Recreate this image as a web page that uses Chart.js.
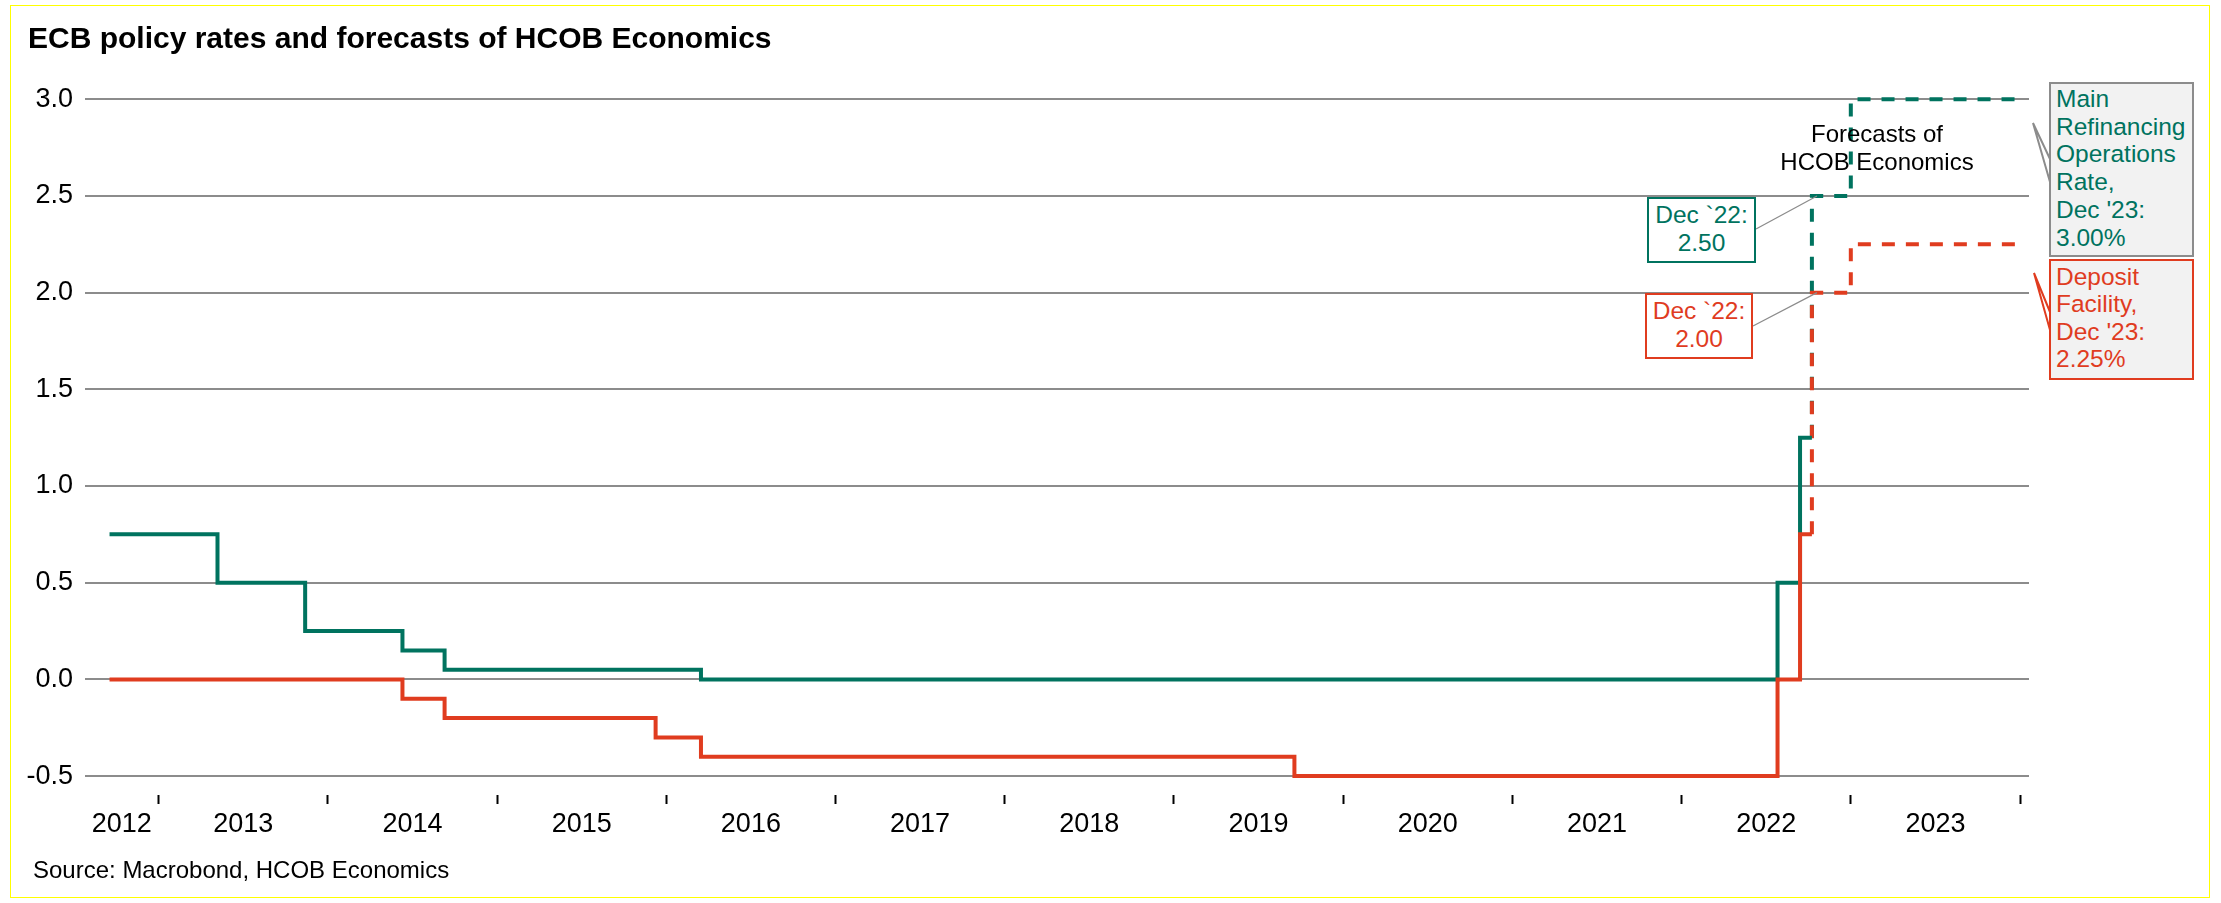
<!DOCTYPE html>
<html>
<head>
<meta charset="utf-8">
<script src="https://cdn.jsdelivr.net/npm/chart.js@4.4.0/dist/chart.umd.min.js"></script>
<style>
  html, body { margin: 0; padding: 0; background: #fff; }
  #wrap { position: relative; width: 2221px; height: 903px; font-family: 'Liberation Sans', Arial, sans-serif; }
  #chart { position: absolute; left: 0; top: 0; }
  .t { position: absolute; white-space: nowrap; }
  #frame { position: absolute; left: 10px; top: 5px; width: 2200px; height: 893px; box-sizing: border-box;
           border: 1px solid #ffff00; pointer-events: none; }
  #title { left: 28px; top: 23px; font-size: 30px; line-height: 30px; font-weight: bold; color: #000; }
  #source { left: 33px; top: 858px; font-size: 24px; line-height: 24px; color: #000; }
  #forecast { left: 1727px; top: 120px; width: 300px; text-align: center; font-size: 24px; line-height: 27.5px; color: #000; }
  .dec { position: absolute; box-sizing: border-box; background: #fff; border: 2px solid; text-align: center;
         font-size: 24.5px; line-height: 28px; padding-top: 2px; }
  .side { position: absolute; box-sizing: border-box; background: #f2f2f2; border: 2px solid;
          font-size: 24.5px; padding-left: 5px; }
</style>
</head>
<body>
<div id="wrap">
  <canvas id="chart" width="2221" height="903"></canvas>
  <div id="title" class="t">ECB policy rates and forecasts of HCOB Economics</div>
  <div id="source" class="t">Source: Macrobond, HCOB Economics</div>
  <div id="forecast" class="t">Forecasts of<br>HCOB Economics</div>
  <div class="dec" style="left:1647px; top:197px; width:109px; height:66px; border-color:#00735f; color:#00735f;">Dec `22:<br>2.50</div>
  <div class="dec" style="left:1645px; top:293px; width:108px; height:66px; border-color:#e03c1f; color:#e03c1f;">Dec `22:<br>2.00</div>
  <div class="side" style="left:2049px; top:82px; width:145px; height:175px; border-color:#8c8c8c; color:#00735f; line-height:27.7px; padding-top:1px;">Main<br>Refinancing<br>Operations<br>Rate,<br>Dec '23:<br>3.00%</div>
  <div class="side" style="left:2049px; top:259px; width:145px; height:121px; border-color:#e03c1f; color:#e03c1f; line-height:27.4px; padding-top:2px;">Deposit<br>Facility,<br>Dec '23:<br>2.25%</div>
  <div id="frame"></div>
</div>
<script>
// Decimal-year dates of each rate change, and the rate that applies from then on.
const mroDates  = [2012.71, 2013.348, 2013.866, 2014.441, 2014.69, 2016.205, 2022.567, 2022.70, 2022.77];
const mroValues = [0.75, 0.50, 0.25, 0.15, 0.05, 0.00, 0.50, 1.25, 1.25];
const dfrDates  = [2012.71, 2014.441, 2014.69, 2015.937, 2016.205, 2019.712, 2022.567, 2022.70, 2022.77];
const dfrValues = [0.00, -0.10, -0.20, -0.30, -0.40, -0.50, 0.00, 0.75, 0.75];

// HCOB forecasts (dashed)
const mroFcDates  = [2022.77, 2022.77, 2023.0, 2024.03];
const mroFcValues = [1.25, 2.50, 3.00, 3.00];
const dfrFcDates  = [2022.77, 2022.77, 2023.0, 2024.03];
const dfrFcValues = [0.75, 2.00, 2.25, 2.25];

const yTicks = [-0.5, 0, 0.5, 1, 1.5, 2, 2.5, 3];
const tickYears = [2013, 2014, 2015, 2016, 2017, 2018, 2019, 2020, 2021, 2022, 2023, 2024];
const yearLabels = ['2012', '2013', '2014', '2015', '2016', '2017', '2018', '2019', '2020', '2021', '2022', '2023'];

const X_MIN = 2012.565, X_MAX = 2024.053;
const Y_MIN = -0.598, Y_MAX = 3.1;

const GREEN = '#00735f';
const RED = '#e03c1f';
const FONT = "'Liberation Sans', Arial, sans-serif";

function points(xs, ys) {
    return xs.map((x, i) => ({ x: x, y: ys[i] }));
}

function series(xs, ys, color, dashed) {
    return {
        data: points(xs, ys),
        borderColor: color,
        borderWidth: 4,
        borderDash: dashed ? [13, 11] : [],
        stepped: true,
        pointRadius: 0,
        tension: 0,
        fill: false
    };
}

// leader lines from the Dec '22 boxes and the pointers of the side boxes
const annotations = {
    id: 'annotations',
    afterDatasetsDraw(chart) {
        const { ctx } = chart;
        const x = chart.scales.x, y = chart.scales.y;
        ctx.save();
        ctx.strokeStyle = '#8c8c8c';
        ctx.lineWidth = 1.3;
        ctx.beginPath();
        ctx.moveTo(1756, 229);
        ctx.lineTo(x.getPixelForValue(2022.8), y.getPixelForValue(2.5));
        ctx.moveTo(1753, 326);
        ctx.lineTo(x.getPixelForValue(2022.8), y.getPixelForValue(2.0));
        ctx.stroke();

        ctx.lineWidth = 2;
        ctx.beginPath();
        ctx.moveTo(2050, 159);
        ctx.lineTo(2033, 123);
        ctx.lineTo(2050, 182);
        ctx.stroke();

        ctx.strokeStyle = RED;
        ctx.beginPath();
        ctx.moveTo(2050, 312);
        ctx.lineTo(2034, 273);
        ctx.lineTo(2050, 330);
        ctx.stroke();
        ctx.restore();
    }
};

new Chart(document.getElementById('chart'), {
    type: 'line',
    data: {
        datasets: [
            series(dfrDates, dfrValues, RED, false),
            series(mroDates, mroValues, GREEN, false),
            series(dfrFcDates, dfrFcValues, RED, true),
            series(mroFcDates, mroFcValues, GREEN, true)
        ]
    },
    options: {
        responsive: false,
        animation: false,
        devicePixelRatio: 1,
        layout: { padding: { top: 80, left: 0, right: 192, bottom: 49 } },
        plugins: { legend: { display: false }, tooltip: { enabled: false } },
        scales: {
            x: {
                type: 'linear',
                min: X_MIN,
                max: X_MAX,
                weight: 0,
                border: { display: false },
                grid: { drawOnChartArea: false, drawTicks: true, tickLength: 9, tickColor: '#000', tickWidth: 2 },
                ticks: { display: false },
                afterBuildTicks: (s) => { s.ticks = tickYears.map(v => ({ value: v })); },
                afterFit: (s) => { s.height = 9; }
            },
            xl: {
                type: 'linear',
                position: 'bottom',
                min: X_MIN,
                max: X_MAX,
                weight: 1,
                border: { display: false },
                grid: { display: false, drawTicks: false },
                ticks: {
                    padding: 4,
                    maxRotation: 0,
                    autoSkip: false,
                    color: '#000',
                    font: { family: FONT, size: 27 },
                    callback: (v, i) => yearLabels[i]
                },
                afterBuildTicks: (s) => {
                    s.ticks = yearLabels.map((lab, i) => ({
                        value: i === 0 ? (X_MIN + tickYears[0]) / 2 : Number(lab) + 0.5
                    }));
                },
                afterFit: (s) => { s.height = 50; }
            },
            y: {
                min: Y_MIN,
                max: Y_MAX,
                border: { display: false },
                grid: { color: '#8c8c8c', lineWidth: 2, drawTicks: false },
                ticks: {
                    padding: 12,
                    color: '#000',
                    font: { family: FONT, size: 27 },
                    callback: (v) => v.toFixed(1)
                },
                afterBuildTicks: (s) => { s.ticks = yTicks.map(v => ({ value: v })); },
                afterFit: (s) => { s.width = 85; }
            }
        }
    },
    plugins: [annotations]
});
</script>
</body>
</html>
